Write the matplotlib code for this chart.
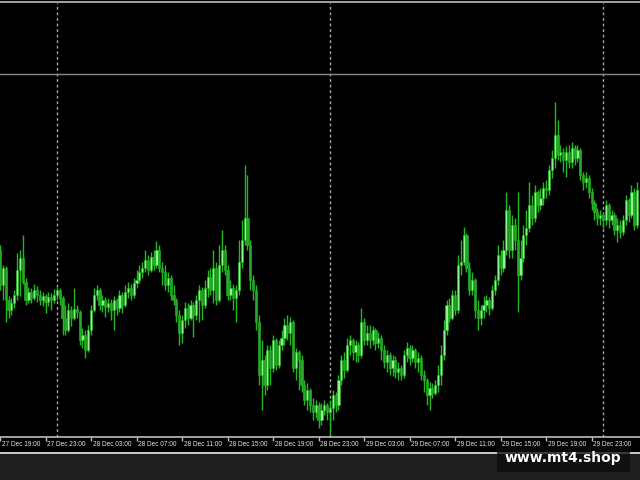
import matplotlib
matplotlib.use("Agg")

import matplotlib.pyplot as plt
import numpy as np
import pandas as pd
from matplotlib.patches import Rectangle


# M15 candles; values are in chart units (no price scale shown)
START_TIME = "2023-12-27 19:00"
BAR_MINUTES = 15
FIRST_OPEN = 230

CLOSES = [
    195, 212, 180, 170, 177, 185, 210, 222, 198, 180, 188, 182, 190, 185, 180, 184,
    178, 183, 180, 185, 190, 182, 162, 150, 170, 162, 171, 168, 140, 145, 130, 150,
    170, 185, 190, 175, 180, 173, 177, 170, 180, 172, 185, 175, 188, 192, 185, 197,
    200, 208, 212, 220, 210, 223, 215, 230, 212, 208, 195, 202, 185, 180, 165, 147,
    160, 172, 162, 175, 165, 180, 190, 175, 192, 203, 190, 212, 180, 215, 230, 210,
    185, 192, 182, 190, 218, 240, 262, 235, 200, 190, 158, 105, 120, 95, 130, 112,
    140, 115, 135, 142, 155, 147, 158, 112, 128, 120, 95, 80, 90, 75, 68, 75,
    60, 70, 75, 68, 72, 85, 75, 100, 120, 110, 135, 140, 128, 135, 125, 158,
    140, 147, 140, 150, 137, 142, 130, 118, 125, 112, 120, 108, 112, 105, 125, 132,
    122, 130, 118, 122, 105, 100, 85, 92, 87, 95, 105, 125, 150, 175, 162, 185,
    170, 215, 218, 245, 212, 190, 200, 170, 162, 170, 175, 180, 172, 190, 200, 225,
    212, 230, 270, 230, 255, 240, 205, 222, 245, 252, 275, 262, 288, 275, 282, 292,
    290, 310, 322, 345, 325, 328, 320, 328, 318, 332, 322, 330, 305, 298, 302, 288,
    277, 268, 262, 265, 260, 275, 260, 265, 250, 255, 248, 260, 280, 265, 288, 255,
    290,
]

HIGHS = [
    235, 215, 214, 184, 182, 190, 227, 230, 245, 202, 193, 192, 196, 194, 190, 188,
    186, 188, 187, 191, 193, 192, 184, 175, 177, 174, 192, 175, 170, 152, 150, 155,
    175, 192, 195, 192, 185, 183, 182, 181, 184, 182, 190, 188, 195, 198, 196, 202,
    210, 215, 218, 230, 225, 228, 230, 239, 235, 218, 215, 208, 205, 195, 182, 170,
    165, 178, 177, 180, 178, 185, 195, 193, 200, 210, 212, 230, 218, 235, 250, 235,
    215, 200, 196, 195, 240, 260, 315, 305, 240, 205, 195, 165, 140, 125, 135, 135,
    145, 142, 140, 150, 162, 165, 163, 160, 132, 130, 125, 100, 97, 92, 82, 80,
    78, 77, 80, 77, 80, 90, 88, 105, 125, 128, 142, 145, 142, 140, 138, 172,
    162, 155, 155, 154, 152, 148, 145, 135, 130, 128, 125, 124, 118, 115, 130, 138,
    135, 135, 132, 128, 125, 110, 102, 98, 97, 100, 115, 135, 160, 180, 182, 190,
    190, 225, 240, 253, 247, 218, 208, 202, 180, 175, 184, 185, 183, 195, 205, 235,
    230, 240, 288, 275, 265, 262, 288, 240, 255, 270, 298, 285, 295, 290, 292, 298,
    300, 315, 330, 378, 360, 335, 332, 334, 335, 338, 335, 335, 332, 308, 308, 305,
    292, 280, 272, 270, 268, 280, 277, 270, 268, 262, 260, 265, 285, 282, 295, 292,
    298,
]

LOWS = [
    190, 180, 158, 162, 165, 172, 180, 184, 196, 175, 177, 177, 180, 178, 175, 174,
    167, 174, 170, 177, 180, 175, 145, 145, 148, 154, 160, 162, 135, 132, 122, 128,
    145, 168, 180, 170, 168, 163, 168, 160, 150, 165, 168, 167, 173, 182, 180, 182,
    192, 197, 202, 208, 205, 208, 210, 212, 208, 195, 190, 188, 180, 175, 158, 135,
    137, 152, 155, 160, 143, 160, 158, 160, 172, 183, 185, 177, 175, 178, 208, 205,
    180, 180, 170, 158, 185, 212, 235, 230, 190, 180, 150, 95, 70, 85, 90, 95,
    108, 110, 112, 130, 135, 140, 135, 108, 100, 90, 88, 75, 70, 68, 60, 62,
    52, 55, 65, 60, 45, 60, 68, 70, 95, 102, 108, 125, 120, 118, 118, 122,
    135, 135, 132, 135, 130, 132, 120, 112, 108, 105, 104, 102, 100, 100, 102, 118,
    115, 118, 112, 108, 100, 88, 75, 70, 82, 85, 88, 95, 120, 145, 158, 160,
    165, 167, 205, 215, 208, 185, 185, 162, 150, 155, 162, 168, 165, 170, 185, 195,
    205, 208, 225, 222, 222, 230, 168, 200, 218, 235, 248, 255, 258, 268, 270, 275,
    282, 285, 302, 312, 320, 318, 308, 303, 312, 312, 315, 318, 300, 290, 292, 282,
    270, 260, 255, 255, 252, 255, 252, 255, 245, 238, 242, 245, 255, 258, 262, 250,
    252,
]

TICK_LABELS = [
    "27 Dec 19:00", "27 Dec 23:00", "28 Dec 03:00", "28 Dec 07:00", "28 Dec 11:00",
    "28 Dec 15:00", "28 Dec 19:00", "28 Dec 23:00", "29 Dec 03:00", "29 Dec 07:00",
    "29 Dec 11:00", "29 Dec 15:00", "29 Dec 19:00", "29 Dec 23:00",
]

LEVEL_LINE = 406
WATERMARK = "www.mt4.shop"

BG = "#000000"
GRID = "#a8a8a8"
WICK = "#22b822"
BULL = "#8af58a"
BEAR = "#28a828"
LABEL_FONT = ["Liberation Sans", "DejaVu Sans"]


def build_frame() -> pd.DataFrame:
    closes = np.array(CLOSES, dtype=float)
    opens = np.concatenate([[FIRST_OPEN], closes[:-1]])
    df = pd.DataFrame({"open": opens, "high": HIGHS, "low": LOWS, "close": closes})
    df["high"] = df[["open", "high", "close"]].max(axis=1)
    df["low"] = df[["open", "low", "close"]].min(axis=1)
    df["time"] = pd.date_range(START_TIME, periods=len(df), freq=f"{BAR_MINUTES}min")
    return df


def bar_index(df: pd.DataFrame, when: pd.Timestamp) -> float:
    return (when - df["time"].iloc[0]) / pd.Timedelta(minutes=BAR_MINUTES)


def draw(df: pd.DataFrame) -> None:
    fig = plt.figure(figsize=(6.4, 4.8), dpi=100, facecolor=BG)
    W, H = 640, 480

    # bottom strip: grey rule and dark status area
    fig.patches.append(Rectangle((0, 0), 1, 26 / H, transform=fig.transFigure,
                                 facecolor="#1e1e1e", edgecolor="none", zorder=0))
    fig.patches.append(Rectangle((0, 26 / H), 1, 2.5 / H, transform=fig.transFigure,
                                 facecolor="#c4c4c4", edgecolor="none", zorder=0))
    fig.patches.append(Rectangle((0, 1 - 3 / H), 1, 2 / H, transform=fig.transFigure,
                                 facecolor="#9c9c9c", edgecolor="none", zorder=0))

    ax = fig.add_axes([0, 43 / H, 1, 434 / H])
    ax.set_facecolor(BG)
    x = np.arange(len(df))
    ax.set_xlim(0, 225)
    ax.set_ylim(43, 477)

    # day separators at midnight
    for t in df["time"][(df["time"].dt.hour == 0) & (df["time"].dt.minute == 0)]:
        ax.axvline(bar_index(df, t), color=GRID, lw=1, ls=(0, (2, 2)), zorder=1)
    ax.axhline(LEVEL_LINE, color="#8a8a8a", lw=1, zorder=1)

    up = df["close"] >= df["open"]
    ax.vlines(x, df["low"], df["high"], color=WICK, lw=1, zorder=2)
    body_low = df[["open", "close"]].min(axis=1)
    body_h = (df["close"] - df["open"]).abs().clip(lower=1.0)
    ax.bar(x[up], body_h[up], bottom=body_low[up], width=0.78,
           color=BULL, edgecolor=WICK, linewidth=0.4, zorder=3)
    ax.bar(x[~up], body_h[~up], bottom=body_low[~up], width=0.78,
           color=BEAR, edgecolor=WICK, linewidth=0.4, zorder=3)

    for side in ("top", "left", "right"):
        ax.spines[side].set_visible(False)
    ax.spines["bottom"].set_color("#bdbdbd")
    ax.spines["bottom"].set_linewidth(1.2)
    ax.set_yticks([])

    year = df["time"].iloc[0].year
    tick_pos = [bar_index(df, pd.Timestamp(f"{lab} {year}")) for lab in TICK_LABELS]
    ax.set_xticks(tick_pos)
    ax.set_xticklabels([])
    ax.tick_params(axis="x", direction="out", length=3, width=1, color="#bdbdbd")
    for pos, lab in zip(tick_pos, TICK_LABELS):
        ax.annotate(lab, xy=(pos, 0), xycoords=("data", "axes fraction"),
                    xytext=(1.5, -8), textcoords="offset pixels",
                    ha="left", va="center", fontsize=4.7, color="#e6e6e6",
                    family=LABEL_FONT, annotation_clip=False)

    # watermark box over the lower right corner
    fig.patches.append(Rectangle((497 / W, 1 - 472 / H), 133 / W, 26 / H,
                                 transform=fig.transFigure, facecolor="#0c0c0c",
                                 edgecolor="none", alpha=0.75, zorder=5))
    fig.text(563 / W, 1 - 458 / H, WATERMARK, ha="center", va="center",
             fontsize=10, fontweight="bold", color="white",
             family=["DejaVu Sans"], zorder=6)

    fig.savefig("out.png", dpi=100, facecolor=BG)
    plt.close(fig)


def main() -> None:
    df = build_frame()
    draw(df)


if __name__ == "__main__":
    main()
